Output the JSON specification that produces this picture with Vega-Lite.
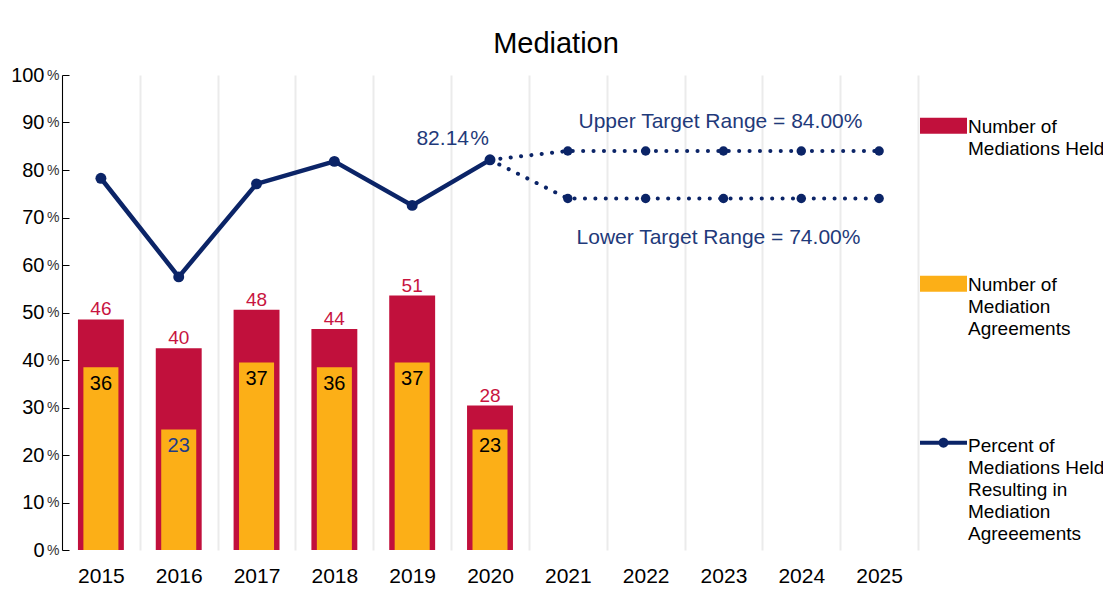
{
  "$schema": "https://vega.github.io/schema/vega-lite/v6.json",
  "width": 856,
  "height": 475,
  "autosize": {"type": "none"},
  "padding": {"left": 62, "top": 75, "right": 185, "bottom": 65},
  "background": "white",
  "config": {"font": "Liberation Sans", "view": {"stroke": null}},
  "title": {"text": "Mediation", "fontSize": 29, "fontWeight": "normal", "color": "#000000", "anchor": "middle", "dx": 66, "dy": 15, "offset": 14, "font": "Liberation Sans"},
  "datasets": {
    "counts": [
      {"year": "2015", "held": 46, "agreements": 36},
      {"year": "2016", "held": 40, "agreements": 23},
      {"year": "2017", "held": 48, "agreements": 37},
      {"year": "2018", "held": 44, "agreements": 36},
      {"year": "2019", "held": 51, "agreements": 37},
      {"year": "2020", "held": 28, "agreements": 23}
    ],
    "pct": [
      {"year": "2015", "pct": 78.26},
      {"year": "2016", "pct": 57.5},
      {"year": "2017", "pct": 77.08},
      {"year": "2018", "pct": 81.82},
      {"year": "2019", "pct": 72.55},
      {"year": "2020", "pct": 82.14}
    ],
    "targets": [
      {"year": "2020", "pct": 82.14, "series": "Upper"},
      {"year": "2021", "pct": 84, "series": "Upper"},
      {"year": "2022", "pct": 84, "series": "Upper"},
      {"year": "2023", "pct": 84, "series": "Upper"},
      {"year": "2024", "pct": 84, "series": "Upper"},
      {"year": "2025", "pct": 84, "series": "Upper"},
      {"year": "2020", "pct": 82.14, "series": "Lower"},
      {"year": "2021", "pct": 74, "series": "Lower"},
      {"year": "2022", "pct": 74, "series": "Lower"},
      {"year": "2023", "pct": 74, "series": "Lower"},
      {"year": "2024", "pct": 74, "series": "Lower"},
      {"year": "2025", "pct": 74, "series": "Lower"}
    ],
    "last": [{"year": "2020", "pct": 82.14, "label": "82.14"}],
    "upperText": [{"year": "2023", "pct": 84, "label": "Upper Target Range = 84.00%"}],
    "lowerText": [{"year": "2023", "pct": 74, "label": "Lower Target Range = 74.00%"}]
  },
  "encoding": {
    "x": {
      "field": "year",
      "type": "ordinal",
      "scale": {"domain": ["2015", "2016", "2017", "2018", "2019", "2020", "2021", "2022", "2023", "2024", "2025"], "paddingInner": 0, "paddingOuter": 0},
      "axis": {"title": null, "tickBand": "extent", "grid": true, "gridColor": "#ebebeb", "gridWidth": 2, "ticks": false, "tickSize": 0, "domain": false, "labelFontSize": 21, "labelPadding": 15, "labelColor": "#000000", "labelAngle": 0, "labelBaseline": "top"}
    }
  },
  "resolve": {"scale": {"y": "independent"}, "axis": {"y": "independent"}},
  "layer": [
    {
      "data": {"name": "counts"},
      "layer": [
        {
          "mark": {"type": "bar", "width": {"band": 0.59}},
          "encoding": {
            "y": {"field": "held", "type": "quantitative", "scale": {"domain": [-2.2, 97.1], "nice": false, "zero": false}, "axis": null},
            "y2": {"datum": -2.2},
            "color": {
              "datum": "Number of Mediations Held",
              "type": "nominal",
              "scale": {
                "domain": ["Number of Mediations Held", "Number of Mediation Agreements", "Percent of Mediations Held Resulting in Mediation Agreeements"],
                "range": ["#C1103C", "#FCAF17", "#0B2467"]
              },
              "legend": {
                "title": null,
                "orient": "none",
                "legendX": 858,
                "legendY": -17.5,
                "direction": "vertical",
                "padding": 0,
                "clipHeight": 120,
                "rowPadding": 38,
                "labelFontSize": 19,
                "labelColor": "#000000",
                "labelBaseline": "top",
                "labelOffset": 1,
                "labelLimit": 0,
                "symbolSize": 2209,
                "labelExpr": "datum.label == 'Number of Mediations Held' ? ['Number of', 'Mediations Held'] : datum.label == 'Number of Mediation Agreements' ? ['Number of', 'Mediation', 'Agreements'] : ['Percent of', 'Mediations Held', 'Resulting in', 'Mediation', 'Agreeements']",
                "encode": {
                  "symbols": {
                    "update": {
                      "shape": {"signal": "datum.value == 'Percent of Mediations Held Resulting in Mediation Agreeements' ? 'M-1,0.18H1V0.35H-1Z M0.21,0.265A0.21,0.21 0 1,1 -0.21,0.265A0.21,0.21 0 1,1 0.21,0.265Z' : 'M-1,0.01H1V0.69H-1Z'"},
                      "fill": {"scale": "color", "field": "value"},
                      "stroke": {"value": "transparent"},
                      "strokeWidth": {"value": 0},
                      "opacity": {"value": 1}
                    }
                  },
                  "labels": {"update": {"lineHeight": {"value": 22}}}
                }
              }
            }
          }
        },
        {
          "mark": {"type": "bar", "width": {"band": 0.45}},
          "encoding": {
            "y": {"field": "agreements", "type": "quantitative"},
            "y2": {"datum": -2.2},
            "color": {"datum": "Number of Mediation Agreements", "type": "nominal"}
          }
        },
        {
          "mark": {"type": "text", "dy": -4, "baseline": "alphabetic", "fontSize": 19, "color": "#C8143F"},
          "encoding": {
            "y": {"field": "held", "type": "quantitative"},
            "text": {"field": "held", "type": "quantitative"}
          }
        },
        {
          "mark": {"type": "text", "dy": 23, "baseline": "alphabetic", "fontSize": 20},
          "encoding": {
            "y": {"field": "agreements", "type": "quantitative"},
            "text": {"field": "agreements", "type": "quantitative"},
            "color": {"condition": {"test": "datum.year == '2016'", "value": "#1F3C88"}, "value": "#000000"}
          }
        }
      ]
    },
    {
      "resolve": {"axis": {"y": "independent"}},
      "layer": [
        {
          "data": {"name": "pct"},
          "mark": {"type": "line", "strokeWidth": 4.5},
          "encoding": {
            "y": {
              "field": "pct", "type": "quantitative", "scale": {"domain": [0, 100], "nice": false},
              "axis": {"orient": "left", "title": null, "values": [0, 10, 20, 30, 40, 50, 60, 70, 80, 90, 100], "labelExpr": "'%'", "labelFontSize": 14, "labelColor": "#333333", "tickSize": -7, "tickColor": "#000000", "labelPadding": 10, "domainColor": "#000000", "grid": false}
            },
            "color": {"datum": "Percent of Mediations Held Resulting in Mediation Agreeements", "type": "nominal"}
          }
        },
        {
          "data": {"name": "pct"},
          "mark": {"type": "point", "filled": true, "size": 120, "opacity": 1},
          "encoding": {
            "y": {
              "field": "pct", "type": "quantitative",
              "axis": {"orient": "left", "title": null, "values": [0, 10, 20, 30, 40, 50, 60, 70, 80, 90, 100], "format": "d", "labelFontSize": 20, "labelColor": "#000000", "ticks": false, "tickSize": 0, "domain": false, "labelPadding": 18, "grid": false}
            },
            "color": {"datum": "Percent of Mediations Held Resulting in Mediation Agreeements", "type": "nominal"}
          }
        },
        {
          "data": {"name": "targets"},
          "mark": {"type": "line", "strokeWidth": 4, "strokeDash": [0.1, 10.3], "strokeCap": "round", "color": "#0B2467"},
          "encoding": {
            "y": {"field": "pct", "type": "quantitative", "axis": null},
            "detail": {"field": "series", "type": "nominal"}
          }
        },
        {
          "data": {"name": "targets"},
          "transform": [{"filter": "datum.year != '2020'"}],
          "mark": {"type": "point", "filled": true, "size": 90, "opacity": 1, "color": "#0B2467"},
          "encoding": {
            "y": {"field": "pct", "type": "quantitative", "axis": null}
          }
        },
        {
          "data": {"name": "last"},
          "mark": {"type": "text", "align": "right", "baseline": "alphabetic", "dx": -21, "dy": -15, "fontSize": 21, "color": "#1F3A7A"},
          "encoding": {
            "y": {"field": "pct", "type": "quantitative", "axis": null},
            "text": {"field": "label", "type": "nominal"}
          }
        },
        {
          "data": {"name": "last"},
          "mark": {"type": "text", "align": "right", "baseline": "alphabetic", "dx": -1, "dy": -15, "fontSize": 21, "color": "#1F3A7A", "text": "%"},
          "encoding": {
            "y": {"field": "pct", "type": "quantitative", "axis": null}
          }
        },
        {
          "data": {"name": "upperText"},
          "mark": {"type": "text", "align": "center", "baseline": "alphabetic", "dx": -3, "dy": -23, "fontSize": 21, "color": "#1F3A7A"},
          "encoding": {
            "y": {"field": "pct", "type": "quantitative", "axis": null},
            "text": {"field": "label", "type": "nominal"}
          }
        },
        {
          "data": {"name": "lowerText"},
          "mark": {"type": "text", "align": "center", "baseline": "alphabetic", "dx": -5, "dy": 45, "fontSize": 21, "color": "#1F3A7A"},
          "encoding": {
            "y": {"field": "pct", "type": "quantitative", "axis": null},
            "text": {"field": "label", "type": "nominal"}
          }
        }
      ]
    }
  ]
}
